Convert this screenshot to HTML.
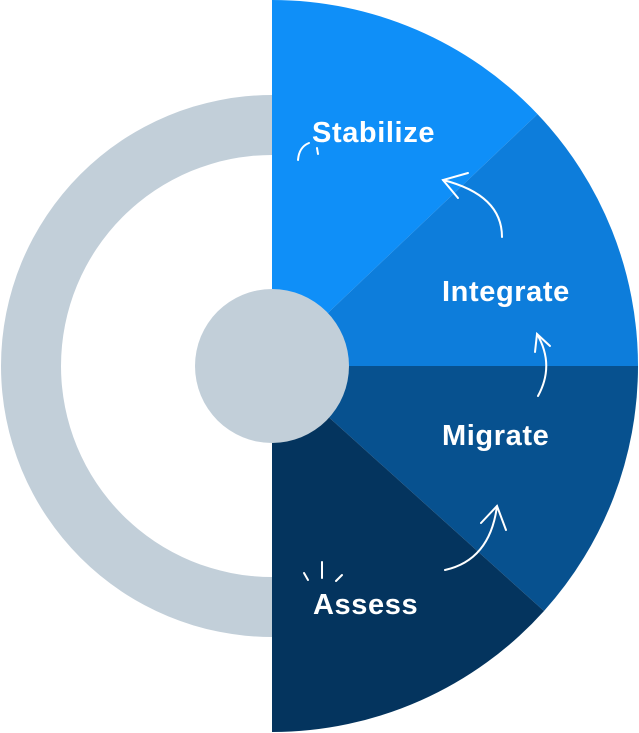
<!DOCTYPE html>
<html><head><style>html,body{margin:0;padding:0;background:#fff}svg{display:block}</style></head>
<body>
<svg width="639" height="733" viewBox="0 0 639 733" xmlns="http://www.w3.org/2000/svg">
<path d="M272 95 A271 271 0 0 0 272 637 L272 577 A211 211 0 0 1 272 155 Z" fill="#c2cfd9"/>
<path d="M272 366 L272 0 A366 366 0 0 1 537.5 114.1 Z" fill="#0f8ff8"/>
<path d="M272 366 L537.5 114.1 A366 366 0 0 1 638 366 Z" fill="#0d7ddb"/>
<path d="M272 366 L638 366 A366 366 0 0 1 544 611 Z" fill="#07518f"/>
<path d="M272 366 L544 611 A366 366 0 0 1 272 732 Z" fill="#04345e"/>
<circle cx="272" cy="366" r="77" fill="#c2cfd9"/>
<g fill="none" stroke="#fff" stroke-width="2" stroke-linecap="round">
<path d="M502 237 Q502 195 443 180"/>
<path d="M468 173 L443 180 L458 198"/>
<path d="M538 396 Q555 365 537 334"/>
<path d="M535 352 L537 334 L550 346"/>
<path d="M445 570 Q490 560 497 506"/>
<path d="M481 523 L497 506 L506 530"/>
<path d="M298 160 Q299 147 309 143"/>
<path d="M317 148 L318 154"/>
<path d="M304 573 L308 580"/>
<path d="M322 562 L322 578"/>
<path d="M342 575 L336 581"/>
</g>
<g fill="#fff" font-family="Liberation Sans, sans-serif" font-weight="bold" font-size="29" letter-spacing="0.6">
<text x="312" y="142">Stabilize</text>
<text x="442" y="301">Integrate</text>
<text x="442" y="445">Migrate</text>
<text x="313" y="614">Assess</text>
</g>
</svg>
</body></html>
